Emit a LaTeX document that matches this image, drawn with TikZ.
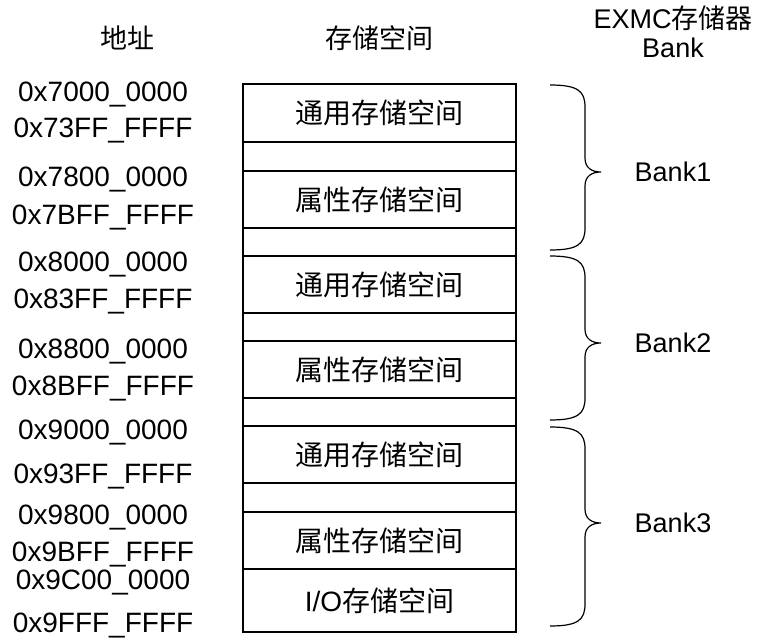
\documentclass[tikz,border=0pt]{standalone}
\usepackage{fontspec}
\setmainfont{Liberation Sans}
\newfontfamily\cjk{Noto Sans CJK SC}
\usetikzlibrary{positioning}

\begin{document}
\begin{tikzpicture}[x=1pt, y=-1pt,
    addr/.style={font=\fontsize{28}{30}\selectfont, inner sep=0pt},
    head/.style={font=\fontsize{27}{30}\selectfont\cjk, inner sep=0pt},
    row/.style={draw, line width=1.4pt, minimum width=273pt, inner sep=0pt,
      font=\fontsize{28}{30}\selectfont\cjk},
    bankbrace/.style={line width=1.2pt},
    banklab/.style={font=\fontsize{27}{30}\selectfont, inner sep=0pt}]
  \useasboundingbox (0,0) rectangle (761,642);
  % Column headings
  \node[head] (hAddr) at (127,38) {地址};
  \node[head] (hSpace) at (379,38) {存储空间};
  \node[head] (hBank) at (673,18) {{\normalfont EXMC}存储器};
  \node[banklab] (hBankB) at (673,48) {Bank};
  % Bank1 rows
  \node[row, minimum height=58pt] (b1gen) at (379.5,113) {通用存储空间};
  \node[row, minimum height=29pt] (b1gapA) at (379.5,156.5) {};
  \node[row, minimum height=57pt] (b1attr) at (379.5,199.5) {属性存储空间};
  \node[row, minimum height=28pt] (b1gapB) at (379.5,242) {};
  % Bank2 rows
  \node[row, minimum height=57pt] (b2gen) at (379.5,284.5) {通用存储空间};
  \node[row, minimum height=28pt] (b2gapA) at (379.5,327) {};
  \node[row, minimum height=57pt] (b2attr) at (379.5,369.5) {属性存储空间};
  \node[row, minimum height=28pt] (b2gapB) at (379.5,412) {};
  % Bank3 rows
  \node[row, minimum height=57pt] (b3gen) at (379.5,454.5) {通用存储空间};
  \node[row, minimum height=29pt] (b3gap) at (379.5,497.5) {};
  \node[row, minimum height=57pt] (b3attr) at (379.5,540.5) {属性存储空间};
  \node[row, minimum height=63pt] (b3io) at (379.5,600.5) {{\normalfont I/O}存储空间};
  % Address column
  \foreach \txt/\y [count=\i] in {0x7000\_0000/95, 0x73FF\_FFFF/131,
      0x7800\_0000/180, 0x7BFF\_FFFF/218, 0x8000\_0000/265, 0x83FF\_FFFF/302,
      0x8800\_0000/352, 0x8BFF\_FFFF/389, 0x9000\_0000/433, 0x93FF\_FFFF/477,
      0x9800\_0000/518, 0x9BFF\_FFFF/555, 0x9C00\_0000/583, 0x9FFF\_FFFF/626}
    \node[addr] (addr\i) at (103,\y) {\txt};
  % Bank braces and labels
  \foreach \ya/\yb/\ym/\lab [count=\i] in {85/250/172/Bank1, 256/420/343/Bank2,
      427/626/523/Bank3} {
    \draw[bankbrace] (550,\ya) .. controls (578,\ya) and (585,\ya+6) .. (585,\ya+22)
      -- (585,\ym-14) .. controls (585,\ym-4) and (592,\ym) .. (601,\ym)
      .. controls (592,\ym) and (585,\ym+4) .. (585,\ym+14)
      -- (585,\yb-22) .. controls (585,\yb-6) and (578,\yb) .. (550,\yb);
    \node[banklab] (bank\i) at (673,\ym) {\lab};
  }
\end{tikzpicture}
\end{document}
